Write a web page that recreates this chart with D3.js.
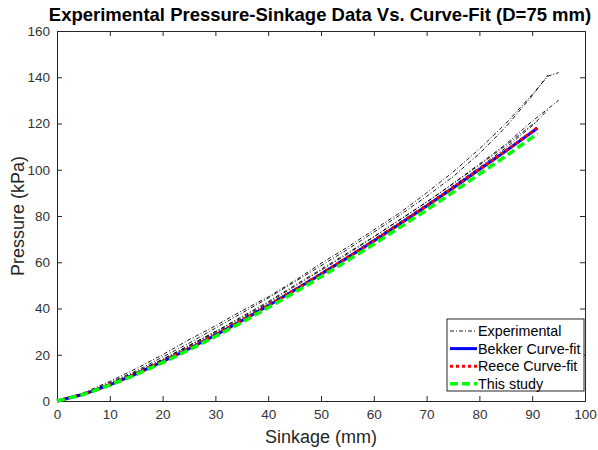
<html>
<meta charset="utf-8" />
<head>
<title>Pressure-Sinkage</title>
<script src="https://cdn.jsdelivr.net/npm/d3@7/dist/d3.min.js"></script>
<style>
	body { margin:0; background:#fff; }
	text { font-family: "Liberation Sans", Arial, sans-serif; }
</style>
</head>
<body>
<svg id="chart" width="598" height="450"></svg>
<script>
// sinkage (mm) sample points
const zFit = [0, 5, 10, 15, 20, 25, 30, 35, 40, 45, 50, 55, 60, 65, 70, 75, 80, 85, 90, 91];
const bekker = [0, 2.9, 7.0, 11.7, 17.0, 22.6, 28.5, 34.7, 41.2, 47.9, 54.8, 61.9, 69.2, 76.7, 84.3, 92.1, 100.1, 108.1, 116.3, 118.0];
const reece  = [0, 2.9, 7.0, 11.8, 17.1, 22.7, 28.6, 34.8, 41.3, 48.0, 54.9, 62.0, 69.3, 76.8, 84.4, 92.2, 100.2, 108.2, 116.5, 118.3];
const thisStudy = [0, 2.8, 6.9, 11.5, 16.6, 22.1, 27.9, 34.0, 40.4, 46.9, 53.7, 60.7, 67.8, 75.2, 82.6, 90.3, 98.1, 105.9, 114.0, 115.6];

// experimental runs
const zExp1 = [0, 5, 10, 15, 20, 25, 30, 35, 40, 45, 50, 55, 60, 65, 70, 75, 80, 85, 90, 93, 95];
const exp1  = [0, 3.5, 8.5, 14, 20, 26.5, 32.5, 39, 45, 52, 59.5, 66.5, 74, 81.5, 90, 99, 109, 120, 132.5, 140.5, 142];
const zExp2 = [0, 5, 10, 15, 20, 25, 30, 35, 40, 45, 50, 55, 60, 65, 70, 75, 80, 85, 90, 93];
const exp2  = [0, 3, 8, 13, 19, 25, 31.5, 38, 44.5, 51.5, 58.5, 65.5, 73, 80.5, 88.5, 97, 107, 118.5, 132, 141];
const zExp3 = [0, 5, 10, 15, 20, 25, 30, 35, 40, 45, 50, 55, 60, 65, 70, 75, 80, 85, 90, 95];
const exp3  = [0, 3, 7.5, 12.5, 18, 24, 30, 36.5, 43, 50, 57, 64, 71, 78.5, 86, 94, 102.5, 111, 121, 130];
const zExp4 = [0, 5, 10, 15, 20, 25, 30, 35, 40, 45, 50, 55, 60, 65, 70, 75, 80, 85, 90, 93];
const exp4  = [0, 2.8, 7.3, 12, 17.5, 23.5, 29.5, 35.5, 42, 48.5, 55.5, 62.5, 70, 77.5, 85, 93, 101, 109.5, 119, 126];
const zExp5 = [0, 5, 10, 15, 20, 25, 30, 35, 40, 45, 50, 55, 60, 65, 70, 75, 80, 85, 90, 91];
const exp5  = [0, 3, 7.5, 12.5, 18, 24, 30, 36, 42.5, 49.5, 56.5, 63.5, 71, 78.5, 86, 94, 102, 110.5, 119.5, 121];

const xTicks = [0, 10, 20, 30, 40, 50, 60, 70, 80, 90, 100];
const yTicks = [0, 20, 40, 60, 80, 100, 120, 140, 160];

const legendNames = ['Experimental', 'Bekker Curve-fit', 'Reece Curve-fit', 'This study'];

const svg = d3.select('#chart');
const L = 57, R = 585, T = 31, B = 401;
const axisColor = '#262626';

const x = d3.scaleLinear().domain([0, 100]).range([L, R]);
const y = d3.scaleLinear().domain([0, 160]).range([B, T]);

// title
svg.append('text').attr('x', 320).attr('y', 21)
	.attr('text-anchor', 'middle').style('font-weight', 'bold').style('font-size', '18.5px')
	.text('Experimental Pressure-Sinkage Data Vs. Curve-Fit (D=75 mm)');

// axes (ticks inside, box on)
const tick = 5;
svg.append('g').attr('transform', `translate(0,${B})`)
	.call(d3.axisBottom(x).tickValues(xTicks).tickSize(-tick).tickPadding(8).tickFormat(d3.format('d')));
svg.append('g').attr('transform', `translate(0,${T})`)
	.call(d3.axisTop(x).tickValues(xTicks).tickSize(-tick).tickFormat(''));
svg.append('g').attr('transform', `translate(${L},0)`)
	.call(d3.axisLeft(y).tickValues(yTicks).tickSize(-tick).tickPadding(7).tickFormat(d3.format('d')));
svg.append('g').attr('transform', `translate(${R},0)`)
	.call(d3.axisRight(y).tickValues(yTicks).tickSize(-tick).tickFormat(''));
svg.selectAll('.domain, .tick line').attr('stroke', axisColor).attr('stroke-width', 1);
svg.selectAll('.tick text').attr('fill', '#333').style('font-size', '13.5px');
svg.selectAll('.tick text').style('font-family', '"Liberation Sans", Arial, sans-serif');

// axis labels
svg.append('text').attr('x', (L + R) / 2).attr('y', 443).attr('text-anchor', 'middle')
	.attr('fill', axisColor).style('font-size', '18px').text('Sinkage (mm)');
svg.append('text').attr('transform', `translate(24,${(T + B) / 2}) rotate(-90)`).attr('text-anchor', 'middle')
	.attr('fill', axisColor).style('font-size', '18px').text('Pressure (kPa)');

const line = d3.line().x(d => x(d[0])).y(d => y(d[1]));
const pairs = (zs, ps) => zs.map((z, i) => [z, ps[i]]);

const plot = svg.append('g');
[[zExp1, exp1], [zExp2, exp2], [zExp3, exp3], [zExp4, exp4], [zExp5, exp5]].forEach(s => {
	plot.append('path').attr('d', line(pairs(s[0], s[1])))
		.attr('fill', 'none').attr('stroke', '#000').attr('stroke-width', 0.9)
		.attr('stroke-dasharray', '4,2,1,2');
});

const fitStyles = [
	{ data: bekker, color: '#0000ff', dash: null, w: 3 },
	{ data: reece, color: '#ff0000', dash: '3,3', w: 3 },
	{ data: thisStudy, color: '#00ff00', dash: '8,4', w: 3.5 }
];
fitStyles.forEach(s => {
	plot.append('path').attr('d', line(pairs(zFit, s.data)))
		.attr('fill', 'none').attr('stroke', s.color).attr('stroke-width', s.w)
		.attr('stroke-dasharray', s.dash);
});

// legend
const lg = svg.append('g').attr('transform', 'translate(447,319)');
lg.append('rect').attr('width', 137).attr('height', 72)
	.attr('fill', '#fff').attr('stroke', axisColor).attr('stroke-width', 1);
const legendStyles = [
	{ color: '#000', dash: '4,2,1,2', w: 0.9 },
	{ color: '#0000ff', dash: null, w: 3 },
	{ color: '#ff0000', dash: '3,3', w: 3 },
	{ color: '#00ff00', dash: '8,4', w: 3.5 }
];
legendNames.forEach((name, i) => {
	const yy = 12 + i * 17.6;
	lg.append('line').attr('x1', 3).attr('x2', 30).attr('y1', yy).attr('y2', yy)
		.attr('stroke', legendStyles[i].color).attr('stroke-width', legendStyles[i].w)
		.attr('stroke-dasharray', legendStyles[i].dash);
	lg.append('text').attr('x', 31).attr('y', yy + 5).style('font-size', '14.3px')
		.attr('fill', '#000').text(name);
});
</script>
</body>
</html>
